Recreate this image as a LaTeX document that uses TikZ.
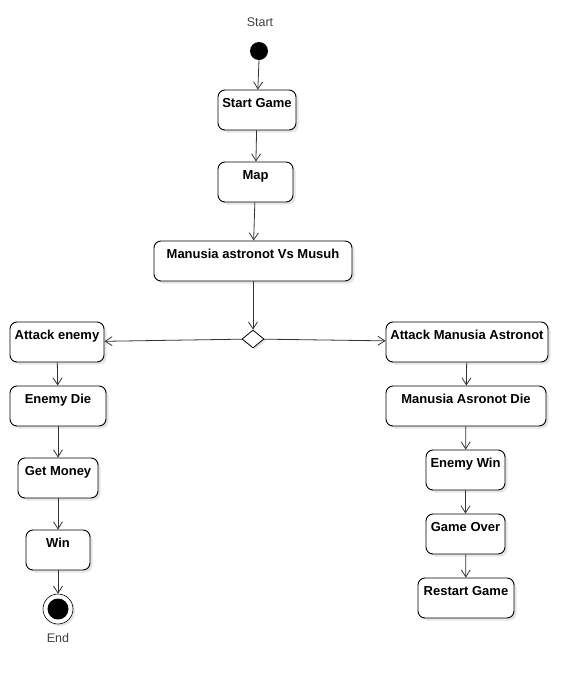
\documentclass[tikz,border=0pt]{standalone}
\usepackage{fontspec}
\setmainfont{Liberation Sans}
\usepackage{tikz}
\usetikzlibrary{arrows.meta,shapes.geometric,shadows}

\begin{document}
\begin{tikzpicture}[x=1pt,y=-1pt,
		act/.style={draw,line width=0.9pt,rounded corners=7pt,fill=white,minimum height=40pt,inner ysep=0pt,text height=17pt,text depth=23pt,font=\fontsize{13}{15}\selectfont\bfseries,drop shadow={shadow xshift=2.5pt,shadow yshift=-2.5pt,fill=black!10,opacity=1}},
		flow/.style={-{Straight Barb[length=7pt,width=9pt]},line width=0.8pt,black!80},
		tag/.style={font=\fontsize{12.5}{15}\selectfont,text=black!75}]
		\useasboundingbox (0,0) rectangle (588,697);
		\node[tag] (startlbl) at (260,22) {Start};
		\fill[black] (259,51) circle (9pt);
		\coordinate (start) at (259,60);
		\node[act,minimum width=78pt] (sg) at (257,110) {Start Game};
		\node[act,minimum width=75pt] (map) at (255.5,182) {Map};
		\node[act,minimum width=198pt] (vs) at (253,261) {Manusia astronot Vs Musuh};
		\node[draw,diamond,line width=0.8pt,fill=white,minimum width=22pt,minimum height=18pt,inner sep=0pt,drop shadow={shadow xshift=2pt,shadow yshift=-2pt,fill=black!10,opacity=1}] (dec) at (253,339) {};
		\node[act,minimum width=94pt] (ae) at (57,342) {Attack enemy};
		\node[act,minimum width=96pt] (ed) at (58,406) {Enemy Die};
		\node[act,minimum width=80pt] (gm) at (58,478) {Get Money};
		\node[act,minimum width=64pt] (win) at (58,550) {Win};
		\node[circle,draw,line width=0.6pt,fill=white,minimum size=30pt,inner sep=0pt,drop shadow={shadow xshift=2pt,shadow yshift=-2pt,fill=black!10,opacity=1}] (end) at (58,609) {};
		\fill[black] (end.center) circle (10.5pt);
		\node[tag] (endlbl) at (58,638) {End};
		\node[act,minimum width=162pt] (ama) at (467,342) {Attack Manusia Astronot};
		\node[act,minimum width=160pt] (mad) at (466,406) {Manusia Asronot Die};
		\node[act,minimum width=79pt] (ew) at (465.5,470) {Enemy Win};
		\node[act,minimum width=79pt] (go) at (465.5,534) {Game Over};
		\node[act,minimum width=96pt] (rg) at (466,598) {Restart Game};
		\draw[flow] (start) -- (sg);
		\draw[flow] (sg) -- (map);
		\draw[flow] (map) -- (vs);
		\draw[flow] (vs) -- (dec);
		\draw[flow] (dec) -- (ae);
		\draw[flow] (dec) -- (ama);
		\draw[flow] (ae) -- (ed);
		\draw[flow] (ed) -- (gm);
		\draw[flow] (gm) -- (win);
		\draw[flow] (win) -- (end);
		\draw[flow] (ama) -- (mad);
		\draw[flow] (mad) -- (ew);
		\draw[flow] (ew) -- (go);
		\draw[flow] (go) -- (rg);
	\end{tikzpicture}
\end{document}
